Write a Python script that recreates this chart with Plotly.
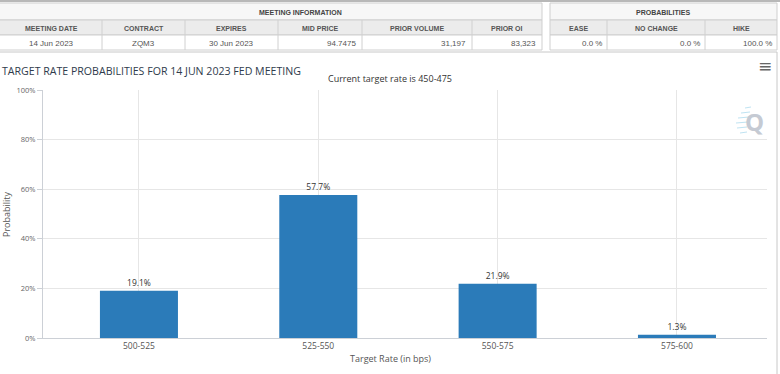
import plotly.graph_objects as go

# ---- data ----
categories = ["500-525", "525-550", "550-575", "575-600"]
probabilities = [19.1, 57.7, 21.9, 1.3]
y_ticks = [0, 20, 40, 60, 80, 100]
y_tick_labels = ["0%", "20%", "40%", "60%", "80%", "100%"]

meeting_headers = ["MEETING DATE", "CONTRACT", "EXPIRES", "MID PRICE", "PRIOR VOLUME", "PRIOR OI"]
meeting_values = ["14 Jun 2023", "ZQM3", "30 Jun 2023", "94.7475", "31,197", "83,323"]
prob_headers = ["EASE", "NO CHANGE", "HIKE"]
prob_values = ["0.0 %", "0.0 %", "100.0 %"]

title_text = "TARGET RATE PROBABILITIES FOR 14 JUN 2023 FED MEETING"
subtitle_text = "Current target rate is 450-475"

# ---- layout geometry (pixels) ----
W, H = 780, 374
L, R, T, B = 43, 13, 90, 36
PW, PH = W - L - R, H - T - B


def px(x):
    return (x - L) / PW


def py(y):
    return (H - B - y) / PH


fig = go.Figure()
fig.add_trace(go.Bar(
    x=categories, y=probabilities,
    marker=dict(color="#2b7bb9", line=dict(width=0)),
    width=0.435,
    texttemplate="%{y:.1f}%", textposition="outside",
    textfont=dict(family="Open Sans", size=8.5, color="#333333"),
    cliponaxis=False, hoverinfo="skip",
))

shapes = []
annotations = []


def rect(x0, y0, x1, y1, fill=None, line="#cfcfcf", lw=1):
    shapes.append(dict(type="rect", xref="paper", yref="paper",
                       x0=px(x0), x1=px(x1), y0=py(y0), y1=py(y1),
                       fillcolor=fill if fill else "rgba(0,0,0,0)",
                       line=dict(color=line, width=lw), layer="below"))


def line(x0, y0, x1, y1, color="#d0d0d0", width=1):
    shapes.append(dict(type="line", xref="paper", yref="paper", x0=px(x0), x1=px(x1), y0=py(y0), y1=py(y1),
                       line=dict(color=color, width=width)))


def text(x, y, s, size=8, color="#444", bold=False, xanchor="center", family="Arial", angle=0):
    annotations.append(dict(xref="paper", yref="paper", x=px(x), y=py(y),
                            text=("<b>%s</b>" % s) if bold else s, showarrow=False,
                            xanchor=xanchor, yanchor="middle", textangle=angle,
                            font=dict(family=family, size=size, color=color)))


# top frame
line(0, 1, 780, 1, color="#b8b8b8", width=2)
# left table
m_bounds = [0, 102, 185, 278, 362, 472, 542]
rect(-2, 3, 542, 20, fill="#f7f7f7")
rect(-2, 20, 542, 35, fill="#ececec")
rect(-2, 35, 542, 50, fill="#ffffff")
for xb in m_bounds[1:-1]:
    line(xb, 20, xb, 50)
text(300, 12, "MEETING INFORMATION", size=7, color="#444", bold=True)
for i, h in enumerate(meeting_headers):
    text((m_bounds[i] + m_bounds[i + 1]) / 2, 28, h, size=7, color="#555", bold=True)
for i, v in enumerate(meeting_values):
    if i < 3:
        text((m_bounds[i] + m_bounds[i + 1]) / 2, 43, v, size=8, color="#555")
    else:
        text(m_bounds[i + 1] - 4, 43, v, size=8, color="#555", xanchor="right")

# right table
p_bounds = [550, 607, 705, 777]
rect(550, 3, 777, 20, fill="#f7f7f7")
rect(550, 20, 777, 35, fill="#ececec")
rect(550, 35, 777, 50, fill="#ffffff")
for xb in p_bounds[1:-1]:
    line(xb, 20, xb, 50)
text(663, 12, "PROBABILITIES", size=7, color="#444", bold=True)
for i, h in enumerate(prob_headers):
    text((p_bounds[i] + p_bounds[i + 1]) / 2, 28, h, size=7, color="#555", bold=True)
for i, v in enumerate(prob_values):
    text(p_bounds[i + 1] - 3, 43, v, size=8, color="#555", xanchor="right")

# chart panel frame
line(-2, 52, 777, 52, color="#c8c8c8")
line(777, 52, 777, 374, color="#c8c8c8")

# watermark streaks next to the Q logo
for (sx, sy, ln) in [(745, 108, 6), (741, 113, 9), (738, 118, 11), (736, 123, 12), (737, 128, 10), (740, 133, 7)]:
    line(sx, sy, sx + ln, sy - 1, color="#bfe3f2", width=1)

# titles
text(0, 71, title_text, size=10.6, color="#2f3b4c", xanchor="left", family="Open Sans")
text(390, 78, subtitle_text, size=9, color="#333333", family="Open Sans")
text(765, 66, "≡", size=17, color="#666666", family="DejaVu Sans")
text(754, 121, "<b>Q</b>", size=24, color="#c5cad3", family="Open Sans")
text(390, 358, "Target Rate (in bps)", size=9, color="#555555", family="Open Sans")
text(6, 214, "Probability", size=9, color="#555555", family="Open Sans", angle=-90)

fig.update_layout(
    width=W, height=H,
    margin=dict(l=L, r=R, t=T, b=B, pad=0),
    paper_bgcolor="white", plot_bgcolor="white",
    showlegend=False,
    bargap=0.5,
    shapes=shapes, annotations=annotations,
    xaxis=dict(type="category", range=[-0.535, 3.502], showgrid=True, gridcolor="#e6e6e6",
               showline=True, linecolor="#ccd0d6", linewidth=1, ticks="", zeroline=False,
               tickfont=dict(family="Open Sans", size=8.5, color="#555555"), fixedrange=True),
    yaxis=dict(range=[0, 100], tickvals=y_ticks, ticktext=y_tick_labels,
               showgrid=True, gridcolor="#e6e6e6", showline=True, linecolor="#ccd0d6", linewidth=1,
               ticks="outside", ticklen=5, tickcolor="#ccd0d6", zeroline=False,
               tickfont=dict(family="Open Sans", size=7.5, color="#666666"), fixedrange=True),
)

fig.write_html("out.html", config={"displayModeBar": False},
               post_script="document.body.style.margin='0';")
